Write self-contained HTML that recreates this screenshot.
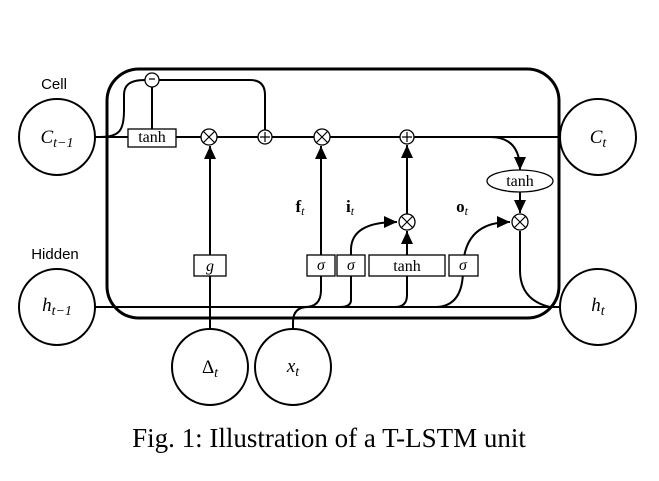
<!DOCTYPE html>
<html><head><meta charset="utf-8"><style>body{margin:0;background:#fff}svg{display:block}</style></head><body>
<svg width="659" height="481" viewBox="0 0 659 481" xmlns="http://www.w3.org/2000/svg">
<defs><marker id="b" markerWidth="14" markerHeight="14" refX="13" refY="6" orient="auto" markerUnits="userSpaceOnUse"><path d="M0,0 L13,6 L0,12 z" fill="#000"/></marker></defs>
<g fill="none" stroke="#000" stroke-width="2">
<rect x="107" y="69" width="452" height="249" rx="32" stroke-width="3"/>
<line x1="95" y1="137" x2="561" y2="137"/>
<path d="M100,137 C120,137 124,130 124,110 L124,95 C124,85 130,80 145,80"/>
<path d="M159,80 L250,80 Q265,80 265,95 L265,130"/>
<line x1="152" y1="87" x2="152" y2="129"/>
<line x1="95" y1="307" x2="561" y2="307"/>
<line x1="210" y1="329" x2="210" y2="146" marker-end="url(#b)"/>
<line x1="321" y1="290" x2="321" y2="146" marker-end="url(#b)"/>
<path d="M321,276 L321,290 Q321,307 305,307"/>
<path d="M293,329 L293,322 Q293,307 308,307"/>
<path d="M351,300 Q351,307 340,307"/>
<path d="M351,300 L351,250 Q351,222 397,222" marker-end="url(#b)"/>
<path d="M407,295 Q407,307 395,307"/>
<line x1="407" y1="295" x2="407" y2="231" marker-end="url(#b)"/>
<line x1="407" y1="214" x2="407" y2="145" marker-end="url(#b)"/>
<path d="M435,307 Q463,307 463,270 Q463,222 510,222" marker-end="url(#b)"/>
<path d="M490,137 Q520,137 520,170" marker-end="url(#b)"/>
<line x1="520" y1="191" x2="520" y2="213" marker-end="url(#b)"/>
<path d="M520,231 L520,270 Q520,300 550,307"/>
</g>
<g fill="#fff" stroke="#000" stroke-width="2">
<circle cx="57" cy="137" r="38"/><circle cx="598" cy="137" r="38"/>
<circle cx="57" cy="307" r="38"/><circle cx="598" cy="307" r="38"/>
<circle cx="210" cy="367" r="38"/><circle cx="293" cy="367" r="38"/>
</g>
<g fill="#fff" stroke="#000" stroke-width="1.3">
<circle cx="152" cy="80" r="7"/>
<rect x="128" y="129" width="48" height="18"/>
<circle cx="209" cy="137" r="8"/><circle cx="265" cy="137" r="7"/>
<circle cx="322" cy="137" r="8"/><circle cx="407" cy="137" r="7"/>
<circle cx="407" cy="222" r="8"/><circle cx="520" cy="222" r="8"/>
<ellipse cx="520" cy="181" rx="33" ry="11"/>
<rect x="194" y="255" width="32" height="21"/>
<rect x="307" y="255" width="28" height="21"/><rect x="337" y="255" width="28" height="21"/>
<rect x="369" y="255" width="76" height="21"/><rect x="449" y="255" width="29" height="21"/>
</g>
<g stroke="#000" stroke-width="1.2">
<path d="M203,131 l12,12 M215,131 l-12,12 M316,131 l12,12 M328,131 l-12,12 M401,216 l12,12 M413,216 l-12,12 M514,216 l12,12 M526,216 l-12,12"/>
<path d="M265,132 v10 M260,137 h10 M407,132 v10 M402,137 h10 M149,79 h6"/>
</g>
<g font-family="Liberation Serif,serif" font-size="16" text-anchor="middle">
<text x="152" y="142">tanh</text>
<text x="520" y="186">tanh</text>
<text x="407" y="271">tanh</text>
<text x="210" y="271" font-style="italic">g</text>
<text x="321" y="270" font-style="italic">σ</text>
<text x="351" y="270" font-style="italic">σ</text>
<text x="463" y="270" font-style="italic">σ</text>
<g font-size="19">
<text x="57" y="143" font-style="italic">C<tspan font-size="14" dy="4">t−1</tspan></text>
<text x="598" y="143" font-style="italic">C<tspan font-size="14" dy="4">t</tspan></text>
<text x="57" y="311" font-style="italic">h<tspan font-size="14" dy="4">t−1</tspan></text>
<text x="598" y="311" font-style="italic">h<tspan font-size="14" dy="4">t</tspan></text>
<text x="210" y="373">Δ<tspan font-size="14" dy="4" font-style="italic">t</tspan></text>
<text x="293" y="372" font-style="italic">x<tspan font-size="14" dy="4">t</tspan></text>
</g>
<text x="300" y="212" font-weight="bold" font-size="17">f<tspan font-size="12" dy="3" font-weight="normal" font-style="italic">t</tspan></text>
<text x="350" y="212" font-weight="bold" font-size="17">i<tspan font-size="12" dy="3" font-weight="normal" font-style="italic">t</tspan></text>
<text x="462" y="212" font-weight="bold" font-size="17">o<tspan font-size="12" dy="3" font-weight="normal" font-style="italic">t</tspan></text>
<text x="329" y="447" font-size="27">Fig. 1: Illustration of a T-LSTM unit</text>
</g>
<g font-family="Liberation Sans,sans-serif" font-size="15" text-anchor="middle">
<text x="54" y="89">Cell</text><text x="55" y="259">Hidden</text>
</g>
</svg>
</body></html>
